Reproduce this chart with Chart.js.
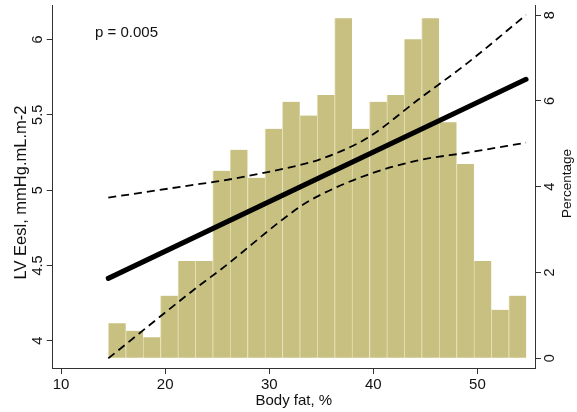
<!DOCTYPE html>
<html><head><meta charset="utf-8">
<script src="https://cdn.jsdelivr.net/npm/chart.js@4/dist/chart.umd.min.js"></script>
<style>html,body{margin:0;padding:0;background:#fff;}#wrap{width:577px;height:412px;}</style>
</head><body><div id="wrap"><canvas id="c" width="577" height="412"></canvas></div>
<script>
// Histogram of body fat (%), bins
const binCenters = [15.38, 17.05, 18.72, 20.39, 22.07, 23.74, 25.41, 27.08, 28.76, 30.43, 32.10, 33.77,
                    35.45, 37.12, 38.79, 40.47, 42.14, 43.81, 45.48, 47.16, 48.83, 50.50, 52.17, 53.85];
const percentages = [0.82, 0.64, 0.49, 1.46, 2.27, 2.27, 4.37, 4.86, 4.21, 5.35, 5.98, 5.66,
                     6.14, 7.93, 5.35, 5.98, 6.14, 7.44, 7.93, 5.50, 4.53, 2.27, 1.13, 1.46];
// Fitted line (LV Eesl)
const fitX = [14.54, 54.67];
const fitY = [4.414, 5.736];
// 95% confidence band
const ciX = [14.54, 23.35, 25.27, 32.96, 34.88, 39.37, 44.49, 48.97, 54.67];
const ciUpper = [4.95, 5.041, 5.060, 5.167, 5.204, 5.344, 5.61, 5.84, 6.163];
const ciLower = [3.883, 4.370, 4.469, 4.890, 4.967, 5.100, 5.20, 5.248, 5.315];
// Ticks and labels
const xTicks = [10, 20, 30, 40, 50];
const leftTicks = [4, 4.5, 5, 5.5, 6];
const rightTicks = [0, 2, 4, 6, 8];
const xTitle = 'Body fat, %';
const leftTitle = 'LV Eesl, mmHg.mL.m-2';
const rightTitle = 'Percentage';
const pText = 'p = 0.005';

const FONT = '"Liberation Sans", Arial, Helvetica, sans-serif';
Chart.defaults.font.family = FONT;
const AXIS = '#333333';
const TXT = '#111111';

const toPts = (xs, ys) => xs.map((x, i) => ({x: x, y: ys[i]}));

const textPlugin = {
  id: 'texts',
  afterDraw(chart) {
    const ctx = chart.ctx;
    const yL = chart.scales.y, yR = chart.scales.y2, ca = chart.chartArea;
    ctx.save();
    ctx.fillStyle = TXT;
    // left tick labels (rotated)
    ctx.font = '14.5px ' + FONT;
    ctx.textAlign = 'center';
    ctx.textBaseline = 'alphabetic';
    leftTicks.forEach(v => {
      const py = yL.getPixelForValue(v);
      ctx.save(); ctx.translate(41.5, py); ctx.rotate(-Math.PI / 2);
      ctx.fillText(String(v), 0, 0); ctx.restore();
    });
    rightTicks.forEach(v => {
      const py = yR.getPixelForValue(v);
      ctx.save(); ctx.translate(553.5, py); ctx.rotate(-Math.PI / 2);
      ctx.fillText(String(v), 0, 0); ctx.restore();
    });
    // axis titles
    ctx.font = '16.5px ' + FONT;
    ctx.save(); ctx.translate(25.5, (ca.top + ca.bottom) / 2 + 6); ctx.rotate(-Math.PI / 2);
    ctx.fillText(leftTitle, 0, 0); ctx.restore();
    ctx.font = '13.5px ' + FONT;
    ctx.save(); ctx.translate(571, (ca.top + ca.bottom) / 2 - 3); ctx.rotate(-Math.PI / 2);
    ctx.fillText(rightTitle, 0, 0); ctx.restore();
    // p value annotation
    ctx.font = '15px ' + FONT;
    ctx.textAlign = 'left';
    ctx.fillText(pText, 95, 36.5);
    ctx.restore();
  }
};

new Chart(document.getElementById('c'), {
  type: 'bar',
  data: {
    datasets: [
      {
        type: 'line', data: toPts(fitX, fitY), yAxisID: 'y', order: 1,
        borderColor: '#000', borderWidth: 5, borderCapStyle: 'round', pointRadius: 0, fill: false
      },
      {
        type: 'line', data: toPts(ciX, ciUpper), yAxisID: 'y', order: 1,
        borderColor: '#000', borderWidth: 1.8, borderDash: [8, 5], pointRadius: 0, fill: false,
        cubicInterpolationMode: 'monotone'
      },
      {
        type: 'line', data: toPts(ciX, ciLower), yAxisID: 'y', order: 1,
        borderColor: '#000', borderWidth: 1.8, borderDash: [8, 5], pointRadius: 0, fill: false,
        cubicInterpolationMode: 'monotone'
      },
      {
        type: 'bar', data: toPts(binCenters, percentages), yAxisID: 'y2', order: 3,
        backgroundColor: 'rgb(200,192,128)', borderColor: 'rgb(228,223,180)',
        borderWidth: {left: 1, right: 0, top: 0, bottom: 0}, borderSkipped: false,
        barPercentage: 1, categoryPercentage: 1
      }
    ]
  },
  options: {
    responsive: false,
    animation: false,
    devicePixelRatio: 1,
    layout: {padding: {top: 5, left: 0, right: 0, bottom: 0}},
    plugins: {legend: {display: false}, tooltip: {enabled: false}},
    scales: {
      x: {
        type: 'linear', min: 9.2, max: 55.53, offset: false,
        grid: {drawOnChartArea: false, drawTicks: true, tickLength: 6, color: AXIS, offset: false},
        border: {display: true, color: AXIS, width: 1},
        ticks: {color: TXT, font: {size: 15}, padding: 2, autoSkip: false, maxRotation: 0},
        title: {display: true, text: xTitle, color: TXT, font: {size: 15}, padding: {top: 0, bottom: 2.5}},
        afterBuildTicks: s => { s.ticks = xTicks.map(v => ({value: v})); },
        afterFit: s => { s.height = 44; }
      },
      y: {
        type: 'linear', position: 'left', min: 3.819, max: 6.229,
        grid: {drawOnChartArea: false, drawTicks: true, tickLength: 6, color: AXIS},
        border: {display: true, color: AXIS, width: 1},
        ticks: {display: false},
        afterBuildTicks: s => { s.ticks = leftTicks.map(v => ({value: v})); },
        afterFit: s => { s.width = 52.7; }
      },
      y2: {
        type: 'linear', position: 'right', min: -0.226, max: 8.236,
        grid: {drawOnChartArea: false, drawTicks: true, tickLength: 6, color: AXIS},
        border: {display: true, color: AXIS, width: 1},
        ticks: {display: false},
        afterBuildTicks: s => { s.ticks = rightTicks.map(v => ({value: v})); },
        afterFit: s => { s.width = 42; }
      }
    }
  },
  plugins: [textPlugin]
});
</script>
</body></html>
